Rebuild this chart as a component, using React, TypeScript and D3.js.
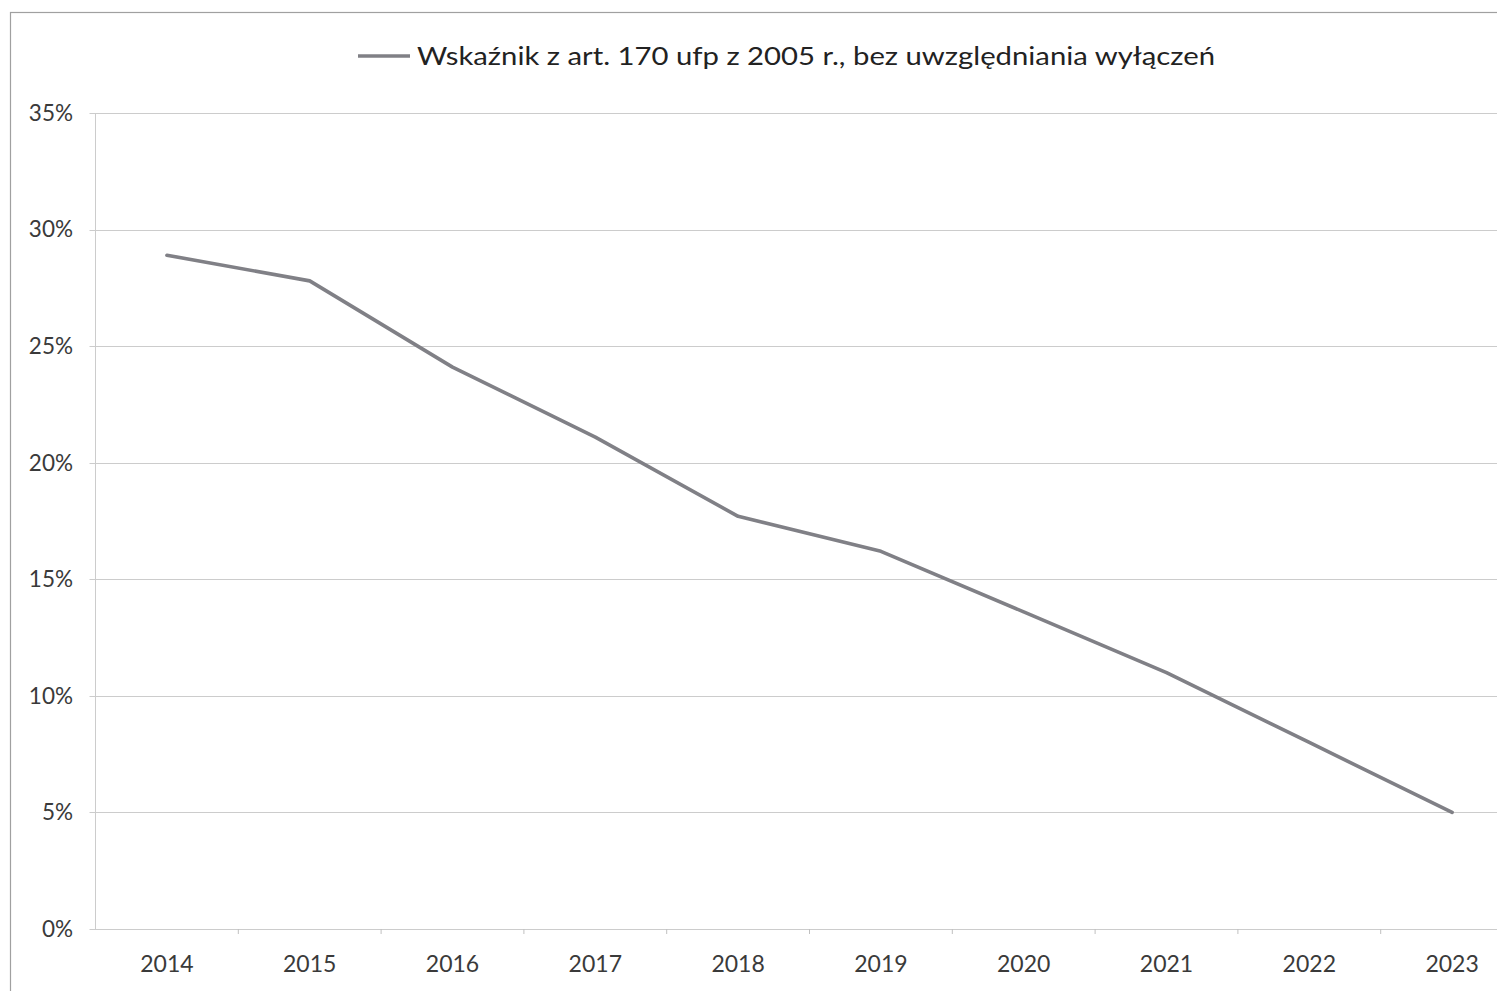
import React from "react";
import * as d3 from "d3";

const years = ["2014", "2015", "2016", "2017", "2018", "2019", "2020", "2021", "2022", "2023"];
const values = [0.289, 0.278, 0.241, 0.211, 0.177, 0.162, 0.136, 0.11, 0.08, 0.05];
const yTicks = [0, 0.05, 0.1, 0.15, 0.2, 0.25, 0.3, 0.35];
const seriesName = "Wskaźnik z art. 170 ufp z 2005 r., bez uwzględniania wyłączeń";

const W = 1497;
const H = 991;
const FONT = "Lato, 'Open Sans', sans-serif";

export default function App() {
  const left = 95.5;
  const step = 142.8;
  const x = d3.scaleBand<string>().domain(years).range([left, left + step * years.length]).padding(0);
  const y = d3.scaleLinear().domain([0, 0.35]).range([929, 113]);
  const line = d3
    .line<number>()
    .x((_, i) => (x(years[i]) as number) + x.bandwidth() / 2)
    .y((d) => y(d));
  const fmt = d3.format(".0%");
  const right = W + 40;

  return (
    <svg
      width={W}
      height={H}
      style={{ position: "absolute", left: 0, top: 0, background: "#fff" }}
    >
      <rect x={10.5} y={12.5} width={W + 20} height={H + 20} fill="#fff" stroke="#a0a0a0" strokeWidth={1.2} />

      {/* gridlines */}
      {yTicks.map((t) => (
        <line key={t} x1={left - 6} x2={right} y1={Math.round(y(t)) + 0.5} y2={Math.round(y(t)) + 0.5} stroke="#cccccc" strokeWidth={1} />
      ))}

      {/* value axis */}
      <line x1={left} x2={left} y1={y(0.35)} y2={y(0)} stroke="#cccccc" strokeWidth={1} />
      {yTicks.map((t) => (
        <text key={t} x={73} y={y(t)} dy="0.35em" textAnchor="end" fontFamily={FONT} fontSize={22.5} fill="#3a3a3a">
          {fmt(t)}
        </text>
      ))}

      {/* category axis ticks between categories */}
      {years.map((yr, i) =>
        i === 0 ? null : (
          <line key={yr} x1={(x(yr) as number)} x2={(x(yr) as number)} y1={y(0)} y2={y(0) + 5} stroke="#c0c0c0" strokeWidth={1} />
        )
      )}
      {years.map((yr) => (
        <text
          key={yr}
          x={(x(yr) as number) + x.bandwidth() / 2}
          y={964}
          dy="0.35em"
          textAnchor="middle"
          fontFamily={FONT}
          fontSize={23}
          fill="#3a3a3a"
        >
          {yr}
        </text>
      ))}

      {/* series */}
      <path d={line(values) as string} fill="none" stroke="#808086" strokeWidth={3.6} strokeLinejoin="round" strokeLinecap="round" />

      {/* legend */}
      <line x1={358} x2={410} y1={56} y2={56} stroke="#808086" strokeWidth={3.6} />
      <text x={417} y={56} dy="0.35em" fontFamily={FONT} fontSize={25.5} fill="#222" textLength={798} lengthAdjust="spacingAndGlyphs">
        {seriesName}
      </text>
    </svg>
  );
}
